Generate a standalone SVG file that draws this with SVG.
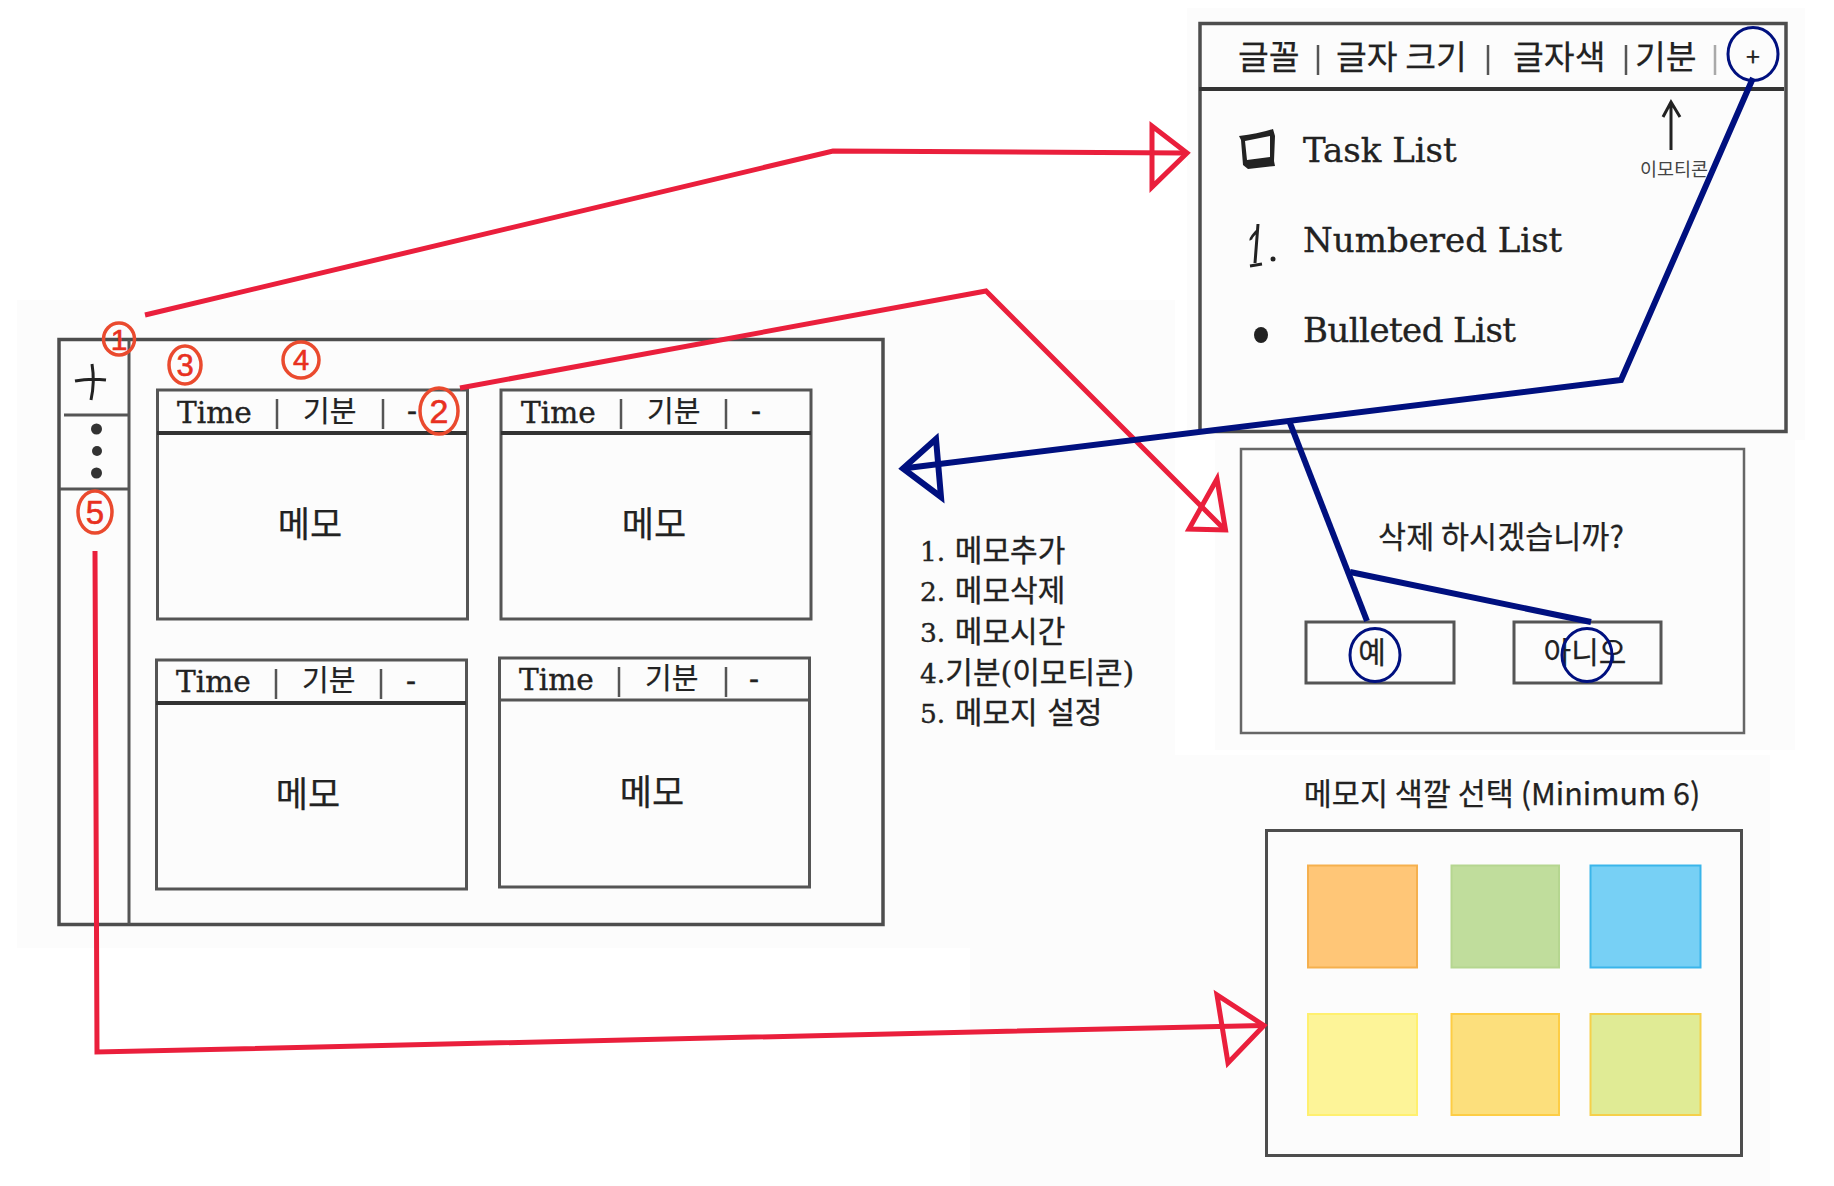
<svg xmlns="http://www.w3.org/2000/svg" width="1834" height="1186" viewBox="0 0 1834 1186">
<style>
.bg{fill:#fcfcfc;stroke:none}
.frame{fill:#fcfcfc;stroke:#4d4d4d;stroke-width:3.5}
.ln{fill:none;stroke:#555;stroke-width:3}
.hd{fill:none;stroke:#333;stroke-width:4}
.sep{fill:none;stroke:#555;stroke-width:2.5}
.t{font-family:"DejaVu Serif","Noto Sans CJK KR",serif;fill:#222;stroke:#222;stroke-width:.35}
.k{font-family:"Noto Sans CJK KR","Noto Sans",sans-serif;fill:#222;stroke:#222;stroke-width:.25}
.time{font-size:29.6px}
.mood{font-size:29px}
.memo{font-size:35px;text-anchor:middle}
.list{font-size:34px}
.legend{font-size:30px}
.num{font-size:26.5px}
.tool{font-size:33.5px}
.red{fill:none;stroke:#ea1f3c;stroke-width:5;stroke-linejoin:miter}
.blue{fill:none;stroke:#00107f;stroke-width:6}
.blueo{fill:none;stroke:#00107f;stroke-width:3}
.mk{fill:none;stroke:#ea4a2e;stroke-width:3.5}
.mkt{font-family:"Liberation Sans",sans-serif;fill:#e8301f;text-anchor:middle;stroke:#e8301f;stroke-width:.6}
.ink{fill:none;stroke:#222;stroke-width:3}
</style>
<rect width="1834" height="1186" fill="#fff"/>
<g id="backdrop">
<rect class="bg" x="17" y="300" width="1158" height="648"/>
<rect class="bg" x="1187" y="8" width="618" height="432"/>
<rect class="bg" x="1215" y="438" width="580" height="312"/>
<rect class="bg" x="970" y="755" width="800" height="431"/>
</g>
<g id="main-window">
<rect class="frame" x="59" y="339.500" width="824" height="585"/>
<path class="ln" d="M129 340V924M64 415H129M60 489H129"/>
<path class="ink" d="M92 364Q95 382 91 400M75 381Q90 378 106 380"/>
<circle cx="96.500" cy="429" r="5.500" fill="#333"/>
<circle cx="97" cy="451" r="5" fill="#333"/>
<circle cx="96.500" cy="473" r="5.500" fill="#333"/>
</g>
<g id="memo-1">
<rect class="ln" x="157.500" y="390" width="310" height="229"/>
<path class="hd" d="M157 433H467"/>
<path class="sep" d="M277 399V429M383 399V429"/>
<text class="t time" x="177" y="423">Time</text>
<text class="k mood" x="303" y="422">기분</text>
<text class="t time" x="407" y="421">-</text>
<text class="k memo" x="310" y="537">메모</text>
</g>
<g id="memo-2">
<rect class="ln" x="501" y="390" width="310" height="229"/>
<path class="hd" d="M501 433H811"/>
<path class="sep" d="M621 399V429M726 399V429"/>
<text class="t time" x="521" y="423">Time</text>
<text class="k mood" x="647" y="422">기분</text>
<text class="t time" x="751" y="421">-</text>
<text class="k memo" x="654" y="537">메모</text>
</g>
<g id="memo-3">
<rect class="ln" x="156.500" y="660" width="310" height="229"/>
<path class="hd" d="M156 703H466"/>
<path class="sep" d="M276 669V699M381 669V699"/>
<text class="t time" x="176" y="692">Time</text>
<text class="k mood" x="302" y="691">기분</text>
<text class="t time" x="406" y="691">-</text>
<text class="k memo" x="308" y="807">메모</text>
</g>
<g id="memo-4">
<rect class="ln" x="499.500" y="658" width="310" height="229"/>
<path class="ln" d="M499 700H809"/>
<path class="sep" d="M619 667V697M726 667V697"/>
<text class="t time" x="519" y="690">Time</text>
<text class="k mood" x="645" y="689">기분</text>
<text class="t time" x="749" y="689">-</text>
<text class="k memo" x="652" y="805">메모</text>
</g>
<g id="marker-1"><ellipse class="mk" cx="119" cy="339" rx="15.500" ry="16"/><text class="mkt" x="119" y="350" font-size="30">1</text></g>
<g id="marker-2"><ellipse class="mk" cx="439" cy="411" rx="19" ry="23"/><text class="mkt" x="439" y="423" font-size="34">2</text></g>
<g id="marker-3"><ellipse class="mk" cx="185" cy="365" rx="16" ry="19"/><text class="mkt" x="185" y="376" font-size="31">3</text></g>
<g id="marker-4"><ellipse class="mk" cx="301" cy="360" rx="18" ry="18"/><text class="mkt" x="301" y="370" font-size="29">4</text></g>
<g id="marker-5"><ellipse class="mk" cx="95" cy="512" rx="17" ry="21"/><text class="mkt" x="95" y="524" font-size="33">5</text></g>
<g id="legend">
<text class="t legend" x="920" y="561"><tspan class="num">1.</tspan> 메모추가</text>
<text class="t legend" x="920" y="601"><tspan class="num">2.</tspan> 메모삭제</text>
<text class="t legend" x="920" y="642"><tspan class="num">3.</tspan> 메모시간</text>
<text class="t legend" x="920" y="683"><tspan class="num">4.</tspan>기분(이모티콘)</text>
<text class="t legend" x="920" y="723"><tspan class="num">5.</tspan> 메모지 설정</text>
</g>
<g id="editor-panel">
<rect class="frame" x="1200" y="23.500" width="586" height="408"/>
<path class="hd" d="M1199 89H1784"/>
<text class="k tool" x="1238" y="69">글꼴</text>
<text class="k tool" x="1336" y="69">글자 크기</text>
<text class="k tool" x="1513" y="69">글자색</text>
<text class="k tool" x="1635" y="69">기분</text>
<path class="sep" d="M1318 45V75M1488 45V75M1626 45V75"/>
<path class="sep" stroke-opacity=".5" d="M1715 45V75"/>
<text class="k" x="1753" y="66" font-size="25" text-anchor="middle">+</text>
<path class="ink" d="M1671 150V103M1663 117L1671 102L1680 117"/>
<text class="k" x="1640" y="176" font-size="18.500" style="fill:#444;stroke:none">이모티콘</text>
<path d="M1239 136Q1258 134 1273 129L1275 136L1274 161L1275 166L1248 169L1243 165L1241 140ZM1245 141L1247 160L1270 157L1270 136Z" fill="#222" fill-rule="evenodd"/>
<text class="t list" x="1303" y="162">Task List</text>
<path class="ink" d="M1258 230Q1250 238 1251 240M1258 224L1255 263M1250 266L1262 264"/>
<circle cx="1273" cy="259" r="2.500" fill="#222"/>
<text class="t list" x="1303" y="252">Numbered List</text>
<ellipse cx="1261" cy="335" rx="7" ry="8" fill="#222"/>
<text class="t list" x="1303" y="342" textLength="213">Bulleted List</text>
<ellipse class="blueo" cx="1753" cy="54" rx="25" ry="26.500"/>
</g>
<g id="confirm-dialog">
<rect class="frame" x="1241" y="449" width="503" height="284" style="stroke-width:2.5;stroke:#666"/>
<text class="k" x="1501" y="548" font-size="30.500" text-anchor="middle">삭제 하시겠습니까?</text>
<rect class="ln" x="1306" y="622" width="148" height="61"/>
<text class="k" x="1372" y="663" font-size="30" text-anchor="middle">예</text>
<rect class="ln" x="1514" y="622" width="147" height="61"/>
<text class="k" x="1585" y="663" font-size="30" text-anchor="middle">아니오</text>
<ellipse class="blueo" cx="1375" cy="655" rx="25" ry="26.500"/>
<ellipse class="blueo" cx="1587" cy="655" rx="25" ry="26.500"/>
</g>
<g id="color-picker">
<text class="k" x="1502" y="805" font-size="30.500" text-anchor="middle">메모지 색깔 선택 (Minimum 6)</text>
<rect class="frame" x="1266.500" y="830.500" width="475" height="325" style="stroke-width:3"/>
<rect x="1308" y="865.500" width="109" height="102" fill="#ffc677" stroke="#f5b04e" stroke-width="2"/>
<rect x="1451.500" y="865.500" width="107.500" height="102" fill="#c0dd9c" stroke="#b5d690" stroke-width="2"/>
<rect x="1590.500" y="865.500" width="110" height="102" fill="#77d0f5" stroke="#3ab5ea" stroke-width="2"/>
<rect x="1308" y="1014" width="109" height="101" fill="#fdf498" stroke="#fff06f" stroke-width="2"/>
<rect x="1451.500" y="1014" width="107.500" height="101" fill="#fcdf7c" stroke="#fdcd45" stroke-width="2"/>
<rect x="1590.500" y="1014" width="110" height="101" fill="#e0eb95" stroke="#f5d04a" stroke-width="2"/>
</g>
<g id="connectors">
<path class="red" d="M145 315L833 151L1184 153"/>
<polygon class="red" points="1187,153 1152,126 1152,187"/>
<path class="red" d="M460 388L986 291L1225 530"/>
<polygon class="red" points="1225.500,530 1217,479 1189,529"/>
<path class="red" d="M95 551L97 1052L1263 1025.500"/>
<polygon class="red" points="1264,1025.500 1217,995 1228,1063"/>
<path class="blue" d="M1753 78L1621 380L903 468.500"/>
<polygon class="blue" points="903,468.500 936,439 941,497"/>
<path class="blue" d="M1290 423L1367 621"/>
<path class="blue" d="M1350 572L1591 622"/>
</g>
</svg>
